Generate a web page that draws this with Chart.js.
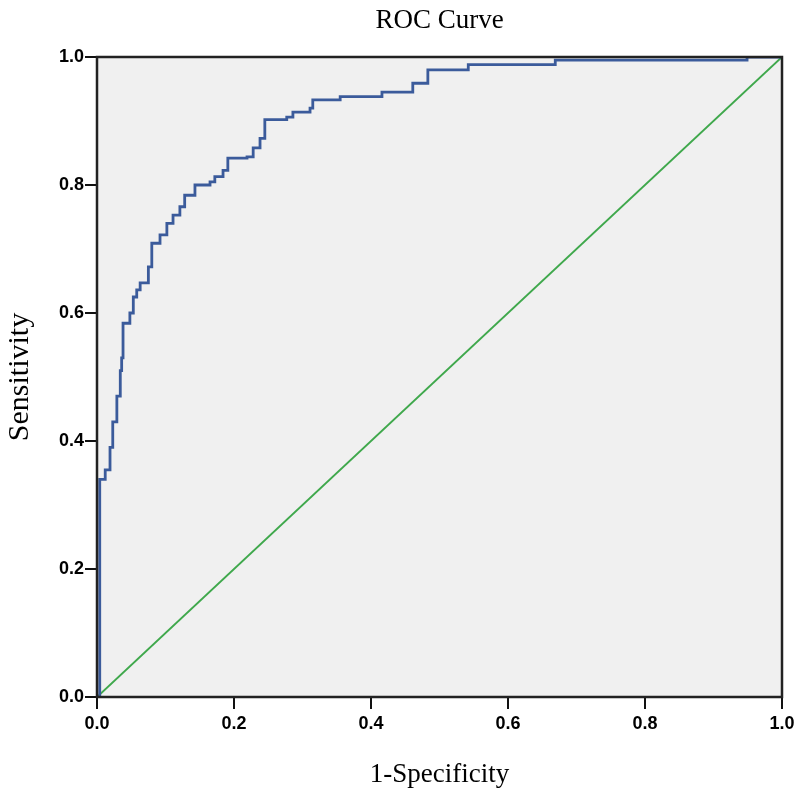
<!DOCTYPE html>
<html>
<head>
<meta charset="utf-8">
<script src="https://cdn.jsdelivr.net/npm/chart.js@4"></script>
<style>
  html, body { margin: 0; padding: 0; background: #fff; }
  #wrap { width: 800px; height: 797px; }
</style>
</head>
<body>
<div id="wrap"><canvas id="roc" width="800" height="797"></canvas></div>
<script>
// valores (1-especificidad, sensibilidad)
const fpr = [0, 0.004, 0.012, 0.019, 0.023, 0.029, 0.034, 0.036, 0.038, 0.048, 0.053, 0.058, 0.063,
  0.075, 0.080, 0.092, 0.102, 0.111, 0.121, 0.128, 0.143, 0.165, 0.172, 0.184, 0.191, 0.219, 0.228,
  0.238, 0.245, 0.277, 0.286, 0.311, 0.315, 0.355, 0.416, 0.461, 0.483, 0.542, 0.669, 0.949, 1.0];
const tpr = [0, 0.34, 0.355, 0.39, 0.43, 0.47, 0.51, 0.53, 0.584, 0.60, 0.625, 0.636, 0.647,
  0.672, 0.709, 0.722, 0.74, 0.753, 0.766, 0.784, 0.80, 0.805, 0.813, 0.823, 0.842, 0.844, 0.858,
  0.873, 0.902, 0.906, 0.914, 0.92, 0.933, 0.938, 0.945, 0.959, 0.98, 0.988, 0.995, 1.0, 1.0];
const refX = [0, 1];
const refY = [0, 1];
const ticks = [0, 0.2, 0.4, 0.6, 0.8, 1.0];
const chartTitle = 'ROC Curve';

const serif = "'Liberation Serif', 'Times New Roman', serif";
const sans = "'Liberation Sans', Arial, sans-serif";

// fondo gris, marco del área de trazado y título centrado sobre el área
const plotFrame = {
    id: 'plotFrame',
    beforeDatasetsDraw(chart) {
        const { ctx, chartArea: { left, top, width, height } } = chart;
        ctx.save();
        ctx.fillStyle = '#f0f0f0';
        ctx.fillRect(left, top, width, height);
        ctx.restore();
    },
    afterDatasetsDraw(chart) {
        const { ctx, chartArea: { left, top, width, height } } = chart;
        ctx.save();
        ctx.strokeStyle = '#222';
        ctx.lineWidth = 2.5;
        ctx.strokeRect(left, top, width, height);
        ctx.font = `27px ${serif}`;
        ctx.fillStyle = '#000';
        ctx.textAlign = 'center';
        ctx.textBaseline = 'alphabetic';
        ctx.fillText(chartTitle, left + width / 2, 28);
        ctx.restore();
    }
};

new Chart(document.getElementById('roc'), {
    type: 'scatter',
    data: {
        datasets: [{
            data: fpr.map((x, i) => ({ x, y: tpr[i] })),
            showLine: true,
            stepped: true,
            borderColor: '#3b5b9b',
            borderWidth: 2.8,
            pointRadius: 0
        }, {
            data: refX.map((x, i) => ({ x, y: refY[i] })),
            showLine: true,
            borderColor: '#3fa84c',
            borderWidth: 2,
            pointRadius: 0
        }]
    },
    options: {
        responsive: false,
        animation: false,
        layout: { padding: { right: 18, left: 0, bottom: 0, top: 57 } },
        plugins: {
            legend: { display: false },
            tooltip: { enabled: false },
            title: { display: false }
        },
        scales: {
            x: {
                type: 'linear',
                min: 0, max: 1,
                afterBuildTicks: s => { s.ticks = ticks.map(v => ({ value: v })); },
                afterFit: s => { s.height = 100; },
                grid: { drawOnChartArea: false, drawTicks: true, tickLength: 12, color: '#111', lineWidth: 2 },
                border: { display: false },
                ticks: {
                    color: '#000',
                    padding: 4,
                    font: { family: sans, size: 18, weight: 'bold' },
                    callback: v => v.toFixed(1)
                },
                title: {
                    display: true,
                    text: '1-Specificity',
                    color: '#000',
                    font: { family: serif, size: 27 },
                    padding: { top: 0, bottom: 6 }
                }
            },
            y: {
                type: 'linear',
                min: 0, max: 1,
                afterBuildTicks: s => { s.ticks = ticks.map(v => ({ value: v })); },
                afterFit: s => { s.width = 97; },
                grid: { drawOnChartArea: false, drawTicks: true, tickLength: 12, color: '#111', lineWidth: 2 },
                border: { display: false },
                ticks: {
                    color: '#000',
                    padding: 1,
                    font: { family: sans, size: 18, weight: 'bold' },
                    callback: v => v.toFixed(1)
                },
                title: {
                    display: true,
                    text: 'Sensitivity',
                    color: '#000',
                    font: { family: serif, size: 30 },
                    padding: { top: 2, bottom: 0 }
                }
            }
        }
    },
    plugins: [plotFrame]
});
</script>
</body>
</html>
